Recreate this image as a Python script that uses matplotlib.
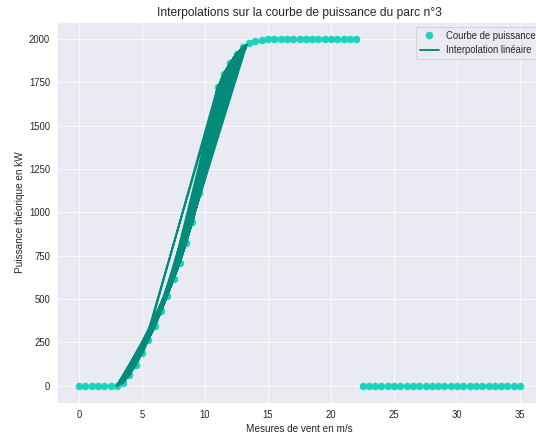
# Courbe de puissance du parc n°3 et interpolation linéaire des mesures de vent
import numpy as np
import matplotlib
matplotlib.use('Agg')
import matplotlib.pyplot as plt
import seaborn as sns

# === Données ===
# Courbe de puissance théorique (vitesse en m/s, puissance en kW)
vitesses = np.arange(0, 35.5, 0.5)
puissances = [0, 0, 0, 0, 0, 0,
              0, 17, 63, 121, 190, 265, 342, 428, 520, 614, 710, 825,
              945, 1110, 1310, 1520, 1720, 1800, 1862, 1915, 1952, 1975, 1988, 1996,
              2000, 2000, 2000, 2000, 2000, 2000, 2000, 2000, 2000, 2000, 2000, 2000,
              2000, 2000, 2000,
              0, 0, 0, 0, 0, 0, 0, 0, 0, 0, 0, 0, 0, 0, 0, 0, 0, 0, 0, 0, 0, 0, 0, 0, 0, 0]

# Mesures de vent (dans l'ordre d'acquisition), première série
mesures_1 = [3.0, 6.5, 9.8, 7.2, 11.4, 8.9, 12.6, 10.1, 6.8, 4.2, 7.9, 5.1, 8.6, 12.3, 9.4, 13.1,
             10.7, 7.5, 11.9, 8.2, 5.6, 3.4, 7.0, 10.3, 13.3, 9.1, 11.8, 8.0, 4.9, 8.4, 6.1, 9.9,
             12.8, 10.5, 7.7, 4.5, 3.1, 6.3, 9.6, 12.0, 8.8, 11.1, 13.0, 9.3, 6.6, 10.0, 7.4, 4.0,
             5.8, 8.5, 11.6, 9.0, 12.4, 10.8, 6.9, 3.8, 7.3, 5.4, 9.2, 12.9, 11.3, 8.1, 10.6, 13.2,
             9.7, 6.4, 3.6, 5.9, 8.7, 12.1, 10.2, 7.6, 11.0, 8.3, 4.6, 7.1, 10.4, 12.7, 9.5, 6.0,
             3.2, 5.0, 8.0, 11.7, 9.8, 13.1, 10.9, 7.8, 4.4, 6.7, 9.4, 12.5, 8.9, 11.5, 7.0, 5.0,
             10.8, 8.6, 4.8, 3.0, 6.2, 9.1, 12.2, 10.0, 13.0, 9.9, 7.3, 5.2, 11.0, 8.4, 6.5, 3.5,
             7.9, 10.7, 12.9, 9.0, 11.4, 8.2, 5.7, 3.9, 7.5, 10.3, 12.6, 8.8, 6.3, 4.1, 5.2, 8.5,
             11.9, 13.3, 10.5, 7.2, 9.6, 12.3, 10.1, 6.8, 4.3, 3.3, 6.0, 9.3, 11.8, 8.7, 12.8, 10.4,
             7.7, 5.0, 8.3, 11.1, 9.5, 13.2, 10.8, 7.4, 4.7, 6.9, 3.1]

# Deuxième série de mesures
mesures_2 = [4.1, 5.9, 7.4, 9.0, 10.6, 12.1, 13.0, 11.4, 9.9, 8.3, 6.7, 5.2, 3.7, 5.0, 6.6, 8.1,
             9.7, 11.2, 12.7, 11.0, 9.5, 7.9, 6.2, 4.6, 3.2, 4.8, 6.4, 7.8, 9.3, 10.9, 12.4, 13.2,
             11.7, 10.2, 8.6, 7.1, 5.5, 4.0, 3.0, 4.5, 6.1, 7.6, 9.1, 10.5, 12.0, 12.9, 11.3, 9.8,
             8.2, 6.5, 4.9, 3.5, 5.3, 6.9, 8.5, 10.1, 11.6, 13.1, 11.9, 10.4, 8.8, 7.3, 5.7, 4.2,
             3.3, 5.1, 6.8, 8.4, 9.9, 11.5, 12.8, 12.2, 10.7, 9.2, 7.6, 6.0, 4.4, 3.1, 4.7, 6.3,
             8.0, 9.6, 11.1, 12.6, 13.3, 11.8, 10.3, 8.7, 7.0, 5.4, 3.9, 5.6, 7.2, 8.9, 10.4, 11.9,
             13.0, 12.3, 10.8, 9.4, 7.7, 6.1, 4.5, 3.4, 5.0, 6.7, 8.3, 9.8, 11.3, 12.5, 11.6, 10.0,
             8.5, 6.9, 5.3, 3.8, 4.3, 5.8, 7.5, 9.1, 10.6, 12.2, 13.2, 11.5, 10.1, 8.6, 7.0, 5.5,
             4.0, 3.6, 5.2, 6.6, 8.2, 9.7, 11.2, 12.7, 12.0, 10.5, 9.0, 7.4, 5.9, 4.3, 3.0, 4.9,
             6.5, 8.0, 9.5, 11.0, 12.5, 13.1, 11.4, 9.9, 8.4, 6.8, 5.1, 3.5]

# Troisième série de mesures
mesures_3 = [4.5, 7.2, 9.4, 6.9, 9.7, 7.0, 4.8, 7.8, 10.2, 8.0, 5.6, 8.4, 11.0, 8.7, 6.0, 8.9,
             11.5, 9.0, 6.3, 4.0, 6.8, 9.2, 12.0, 9.6, 7.3, 5.0, 7.6, 10.5, 8.1, 5.3, 3.2, 5.8,
             8.6, 10.8, 8.3, 5.9, 3.6, 6.2, 9.1, 11.7, 9.3, 6.6, 4.3, 7.1, 9.9, 12.4, 10.0, 7.5,
             4.9, 7.7, 10.4, 8.2, 5.5, 8.5, 11.3, 8.8, 6.4, 3.9, 6.5, 9.5, 12.1, 9.8, 7.4, 5.1,
             8.0, 10.6, 13.0, 10.3, 7.9, 5.4, 3.4, 5.7, 8.3, 10.9, 13.2, 10.7, 8.1, 5.2, 7.0, 9.4,
             6.7, 4.6, 7.3, 10.1, 12.6, 9.9, 7.2, 4.7, 6.1, 8.9, 11.6, 9.2, 6.9, 4.4, 6.6, 9.0,
             11.8, 9.6, 7.6, 5.0]

mesures = mesures_1 + mesures_2 + mesures_3

# Interpolation linéaire sur la courbe de puissance
interp = np.interp(mesures, vitesses, puissances)

# === Graphique ===
sns.set_style('darkgrid')
plt.rcParams['font.family'] = ['Liberation Sans', 'DejaVu Sans']

fig = plt.figure(figsize=(536 / 72, 436 / 72), dpi=72)
ax = fig.add_axes([0.1063, 0.0757, 0.905, 0.8748])

ax.plot(vitesses, puissances, 'o', color='#1ad3bd', markersize=6.5,
        label='Courbe de puissance')
ax.plot(mesures, interp, color='#008b7a', linewidth=1.9,
        label='Interpolation linéaire')

ax.set_xlim(-1.75, 36.75)
ax.set_ylim(-100, 2100)
ax.set_xticks([0, 5, 10, 15, 20, 25, 30, 35])
ax.set_yticks([0, 250, 500, 750, 1000, 1250, 1500, 1750, 2000])
ax.tick_params(labelsize=9.5)

ax.set_title('Interpolations sur la courbe de puissance du parc n°3', fontsize=12)
ax.set_xlabel('Mesures de vent en m/s', fontsize=10)
ax.set_ylabel('Puissance théorique en kW', fontsize=10)

ax.legend(loc='upper left', bbox_to_anchor=(411 / 536, 1 - 22 / 436),
          bbox_transform=fig.transFigure, fontsize=9.5)

fig.savefig('out.png', dpi=72)
